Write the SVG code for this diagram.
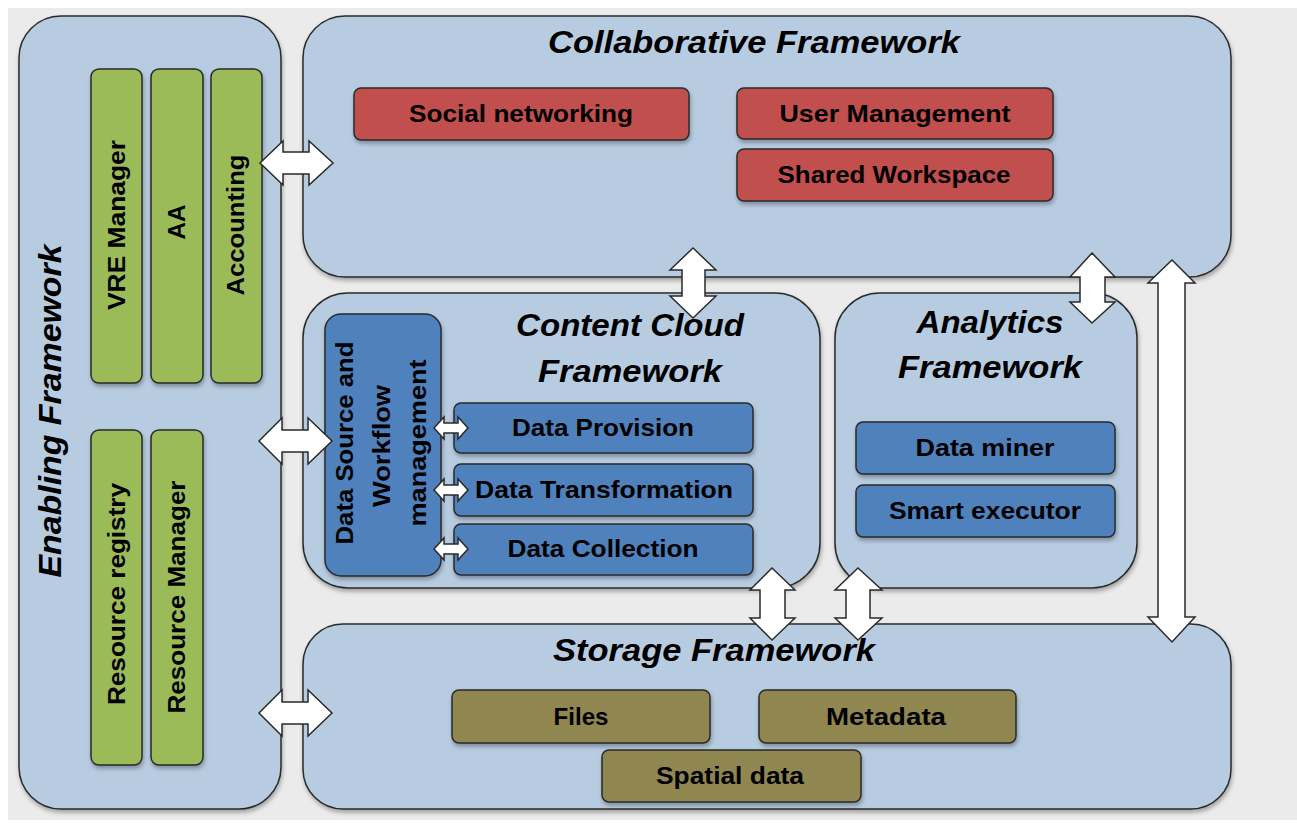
<svg xmlns="http://www.w3.org/2000/svg" width="1297" height="832" viewBox="0 0 1297 832">
<defs>
<filter id="sh" x="-10%" y="-10%" width="130%" height="140%">
<feDropShadow dx="1" dy="3" stdDeviation="2" flood-color="#000" flood-opacity="0.3"/>
</filter>
<style>
.frame{fill:#b8cce1;stroke:#2a2a2a;stroke-width:1.5}
.green{fill:#9bbb59;stroke:#2a2a2a;stroke-width:1.5}
.red{fill:#c0504d;stroke:#2a2a2a;stroke-width:1.5}
.blue{fill:#4f81bd;stroke:#2a2a2a;stroke-width:1.5}
.olive{fill:#8f8750;stroke:#2a2a2a;stroke-width:1.5}
.lbl{font-family:"Liberation Sans",Arial,sans-serif;font-weight:bold;font-size:24px;fill:#000;text-anchor:middle}
.ttl{font-family:"Liberation Sans",Arial,sans-serif;font-weight:bold;font-style:italic;font-size:32px;fill:#000;text-anchor:middle}
.arr{fill:#fff;stroke:#2a2a2a;stroke-width:1.5;stroke-linejoin:miter}
</style>
</defs>
<rect x="0" y="0" width="1297" height="832" fill="#fff"/>
<rect x="8" y="8" width="1289" height="812" fill="#ebebeb"/>

<g id="enabling">
<rect class="frame" x="19" y="16" width="262" height="793" rx="42" filter="url(#sh)"/>
<text class="ttl" x="50" y="411" transform="rotate(-90 50 411)" dy="11" textLength="333" lengthAdjust="spacingAndGlyphs">Enabling Framework</text>
<g id="vre"><rect class="green" x="91" y="69" width="51" height="314" rx="8" filter="url(#sh)"/>
<text class="lbl" x="117" y="225" transform="rotate(-90 117 225)" dy="8" textLength="170" lengthAdjust="spacingAndGlyphs">VRE Manager</text></g>
<g id="aa"><rect class="green" x="151" y="69" width="52" height="314" rx="8" filter="url(#sh)"/>
<text class="lbl" x="177" y="222" transform="rotate(-90 177 222)" dy="8" textLength="35" lengthAdjust="spacingAndGlyphs">AA</text></g>
<g id="accounting"><rect class="green" x="211" y="69" width="51" height="314" rx="8" filter="url(#sh)"/>
<text class="lbl" x="236" y="225" transform="rotate(-90 236 225)" dy="8" textLength="141" lengthAdjust="spacingAndGlyphs">Accounting</text></g>
<g id="registry"><rect class="green" x="91" y="430" width="51" height="335" rx="8" filter="url(#sh)"/>
<text class="lbl" x="117" y="594" transform="rotate(-90 117 594)" dy="8" textLength="222" lengthAdjust="spacingAndGlyphs">Resource registry</text></g>
<g id="resmanager"><rect class="green" x="151" y="430" width="52" height="335" rx="8" filter="url(#sh)"/>
<text class="lbl" x="177" y="597" transform="rotate(-90 177 597)" dy="8" textLength="233" lengthAdjust="spacingAndGlyphs">Resource Manager</text></g>
</g>

<g id="collaborative">
<rect class="frame" x="303" y="16" width="928" height="261" rx="42" filter="url(#sh)"/>
<text class="ttl" x="754" y="53" textLength="412" lengthAdjust="spacingAndGlyphs">Collaborative Framework</text>
<g id="social"><rect class="red" x="354" y="88" width="335" height="52" rx="7" filter="url(#sh)"/>
<text class="lbl" x="521" y="122" textLength="224" lengthAdjust="spacingAndGlyphs">Social networking</text></g>
<g id="usermgmt"><rect class="red" x="737" y="88" width="316" height="51" rx="7" filter="url(#sh)"/>
<text class="lbl" x="895" y="122" textLength="231" lengthAdjust="spacingAndGlyphs">User Management</text></g>
<g id="workspace"><rect class="red" x="737" y="149" width="316" height="52" rx="7" filter="url(#sh)"/>
<text class="lbl" x="894" y="183" textLength="233" lengthAdjust="spacingAndGlyphs">Shared Workspace</text></g>
</g>

<g id="contentcloud">
<rect class="frame" x="303" y="293" width="517" height="295" rx="45" filter="url(#sh)"/>
<text class="ttl" x="630" y="336" textLength="228" lengthAdjust="spacingAndGlyphs">Content Cloud</text>
<text class="ttl" x="630" y="382" textLength="184" lengthAdjust="spacingAndGlyphs">Framework</text>
<g id="datasource"><rect class="blue" x="325" y="314" width="116" height="262" rx="16" filter="url(#sh)"/>
<text class="lbl" x="345" y="443" transform="rotate(-90 345 443)" dy="8" textLength="203" lengthAdjust="spacingAndGlyphs">Data Source and</text>
<text class="lbl" x="382" y="446" transform="rotate(-90 382 446)" dy="8" textLength="122" lengthAdjust="spacingAndGlyphs">Workflow</text>
<text class="lbl" x="418" y="443" transform="rotate(-90 418 443)" dy="8" textLength="167" lengthAdjust="spacingAndGlyphs">management</text></g>
<g id="provision"><rect class="blue" x="454" y="403" width="299" height="50" rx="7" filter="url(#sh)"/>
<text class="lbl" x="603" y="436" textLength="182" lengthAdjust="spacingAndGlyphs">Data Provision</text></g>
<g id="transformation"><rect class="blue" x="454" y="464" width="299" height="52" rx="7" filter="url(#sh)"/>
<text class="lbl" x="604" y="498" textLength="258" lengthAdjust="spacingAndGlyphs">Data Transformation</text></g>
<g id="collection"><rect class="blue" x="454" y="524" width="299" height="51" rx="7" filter="url(#sh)"/>
<text class="lbl" x="603" y="557" textLength="191" lengthAdjust="spacingAndGlyphs">Data Collection</text></g>
</g>

<g id="analytics">
<rect class="frame" x="835" y="293" width="302" height="295" rx="45" filter="url(#sh)"/>
<text class="ttl" x="990" y="333" textLength="147" lengthAdjust="spacingAndGlyphs">Analytics</text>
<text class="ttl" x="990" y="378" textLength="184" lengthAdjust="spacingAndGlyphs">Framework</text>
<g id="miner"><rect class="blue" x="856" y="422" width="259" height="52" rx="7" filter="url(#sh)"/>
<text class="lbl" x="985" y="456" textLength="139" lengthAdjust="spacingAndGlyphs">Data miner</text></g>
<g id="executor"><rect class="blue" x="856" y="485" width="259" height="52" rx="7" filter="url(#sh)"/>
<text class="lbl" x="985" y="519" textLength="192" lengthAdjust="spacingAndGlyphs">Smart executor</text></g>
</g>

<g id="storage">
<rect class="frame" x="303" y="624" width="928" height="185" rx="40" filter="url(#sh)"/>
<text class="ttl" x="714" y="661" textLength="322" lengthAdjust="spacingAndGlyphs">Storage Framework</text>
<g id="files"><rect class="olive" x="452" y="690" width="258" height="53" rx="7" filter="url(#sh)"/>
<text class="lbl" x="581" y="725" textLength="55" lengthAdjust="spacingAndGlyphs">Files</text></g>
<g id="metadata"><rect class="olive" x="759" y="690" width="257" height="53" rx="7" filter="url(#sh)"/>
<text class="lbl" x="886" y="725" textLength="120" lengthAdjust="spacingAndGlyphs">Metadata</text></g>
<g id="spatial"><rect class="olive" x="602" y="750" width="259" height="52" rx="7" filter="url(#sh)"/>
<text class="lbl" x="730" y="784" textLength="148" lengthAdjust="spacingAndGlyphs">Spatial data</text></g>
</g>

<g id="connectors">
<path class="arr" d="M260,163 L283,141 L283,152 L309,152 L309,141 L333,163 L309,185 L309,174 L283,174 L283,185 Z"/>
<path class="arr" d="M259,441 L282,418 L282,430 L308,430 L308,418 L332,441 L308,464 L308,452 L282,452 L282,464 Z"/>
<path class="arr" d="M259,713 L282,690 L282,702 L308,702 L308,690 L332,713 L308,736 L308,724 L282,724 L282,736 Z"/>
<path class="arr" d="M693,248 L716,270 L705,270 L705,296 L716,296 L693,318 L670,296 L682,296 L682,270 L670,270 Z"/>
<path class="arr" d="M1092,253 L1115,277 L1105,277 L1105,302 L1115,302 L1092,323 L1070,302 L1080,302 L1080,277 L1070,277 Z"/>
<path class="arr" d="M1172,260 L1195,283 L1185,283 L1185,617 L1195,617 L1172,642 L1148,617 L1158,617 L1158,283 L1148,283 Z"/>
<path class="arr" d="M772,568 L795,590 L785,590 L785,618 L795,618 L772,640 L750,618 L760,618 L760,590 L750,590 Z"/>
<path class="arr" d="M858,568 L882,590 L870,590 L870,618 L882,618 L858,640 L835,618 L846,618 L846,590 L835,590 Z"/>
<path class="arr" stroke-width="1" d="M434,428 L444,417 L444,423 L458,423 L458,417 L468,428 L458,439 L458,433 L444,433 L444,439 Z"/>
<path class="arr" stroke-width="1" d="M434,490 L444,479 L444,485 L458,485 L458,479 L468,490 L458,501 L458,495 L444,495 L444,501 Z"/>
<path class="arr" stroke-width="1" d="M434,549 L444,538 L444,544 L458,544 L458,538 L468,549 L458,560 L458,554 L444,554 L444,560 Z"/>
</g>
</svg>
